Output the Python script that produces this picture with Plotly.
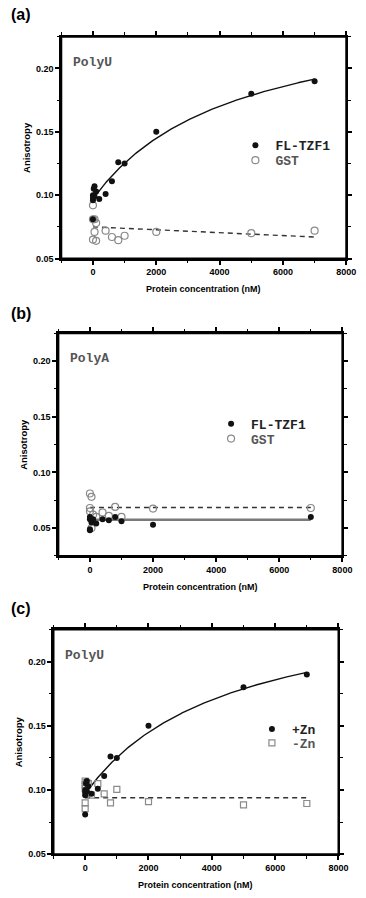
import numpy as np
import plotly.graph_objects as go

# ---------------- data ----------------
# Panel (a): PolyU, FL-TZF1 vs GST
fl_a_x = [0, 0, 0, 0, 25, 50, 50, 100, 200, 400, 600, 800, 1000, 2000, 5000, 7000]
fl_a_y = [0.100, 0.096, 0.098, 0.081, 0.105, 0.107, 0.099, 0.103, 0.097, 0.101,
          0.111, 0.126, 0.125, 0.150, 0.180, 0.190]
gst_a_x = [0, 0, 0, 50, 50, 100, 100, 400, 600, 800, 1000, 2000, 5000, 7000]
gst_a_y = [0.092, 0.081, 0.065, 0.081, 0.071, 0.078, 0.064, 0.072, 0.067, 0.0645,
           0.068, 0.071, 0.070, 0.072]

# Panel (b): PolyA, FL-TZF1 vs GST
fl_b_x = [0, 0, 0, 0, 50, 100, 200, 400, 600, 800, 1000, 2000, 7000]
fl_b_y = [0.060, 0.058, 0.049, 0.048, 0.055, 0.058, 0.054, 0.058, 0.057, 0.060,
          0.056, 0.053, 0.060]
gst_b_x = [0, 0, 0, 50, 50, 100, 200, 400, 600, 800, 1000, 2000, 7000]
gst_b_y = [0.081, 0.068, 0.065, 0.078, 0.050, 0.062, 0.060, 0.064, 0.061, 0.069,
           0.060, 0.0675, 0.068]

# Panel (c): PolyU, +Zn vs -Zn
pzn_c_x = [0, 0, 0, 0, 25, 50, 50, 100, 200, 400, 600, 800, 1000, 2000, 5000, 7000]
pzn_c_y = [0.100, 0.096, 0.098, 0.081, 0.105, 0.107, 0.099, 0.103, 0.097, 0.101,
           0.111, 0.126, 0.125, 0.150, 0.180, 0.190]
mzn_c_x = [0, 0, 0, 0, 0, 50, 50, 100, 200, 400, 600, 800, 1000, 2000, 5000, 7000]
mzn_c_y = [0.107, 0.104, 0.101, 0.090, 0.0855, 0.106, 0.097, 0.105, 0.096, 0.105,
           0.097, 0.090, 0.1005, 0.091, 0.0885, 0.0895]

# fitted models
hyp_a0, hyp_b, hyp_k = 0.097, 0.155, 4470.0      # binding hyperbola, PolyU
gst_a_line = (0.075, 0.067)                        # GST PolyU linear fit (start, end)
fl_b_level = 0.0575                                # PolyA FL-TZF1 flat fit
gst_b_level = 0.0685                               # PolyA GST flat fit
mzn_c_level = 0.094                                # -Zn flat fit
fit_range = (0, 7000)

panel_labels = ["(a)", "(b)", "(c)"]
rna_labels = ["PolyU", "PolyA", "PolyU"]
legend_names = [("FL-TZF1", "GST"), ("FL-TZF1", "GST"), ("+Zn", "-Zn")]
x_title = "Protein concentration (nM)"
y_title = "Anisotropy"

# ---------------- layout geometry ----------------
W, H = 366, 898
# pixel boxes: (left, right, top, bottom)
boxes = [(63, 356, 37, 260), (60, 352, 335, 559), (55, 348, 633, 859)]
yranges = [[0.05, 0.225], [0.025, 0.225], [0.05, 0.225]]
xrange_ = [-1000, 8000]
label_y = [15, 315, 612]
# legend boxes (left px, top px of first entry, top px of second entry)
legend_pos = [(242, 131, 146), (217, 411, 426), (259, 718, 732)]

def px_x(p):
    return p / W

def px_y(p):
    return 1 - p / H

fig = go.Figure()

fx = np.linspace(fit_range[0], fit_range[1], 200)
hyp = hyp_a0 + hyp_b * fx / (hyp_k + fx)

BLACK = "#111111"
GRAY = "#8a8a8a"

def add_panel(i, xs1, ys1, name1, xs2, ys2, name2, sym2, size2, line1, line2):
    n = i + 1
    xa = "x" if n == 1 else f"x{n}"
    ya = "y" if n == 1 else f"y{n}"
    leg1 = "legend" if n == 1 else f"legend{n}"
    leg2 = f"legend{n + 3}"
    fig.add_trace(go.Scatter(x=line1[0], y=line1[1], mode="lines",
                             line=line1[2], showlegend=False, hoverinfo="skip",
                             xaxis=xa, yaxis=ya))
    fig.add_trace(go.Scatter(x=line2[0], y=line2[1], mode="lines",
                             line=line2[2], showlegend=False, hoverinfo="skip",
                             xaxis=xa, yaxis=ya))
    fig.add_trace(go.Scatter(x=xs2, y=ys2, mode="markers", name=name2,
                             marker=dict(symbol=sym2, size=size2, color=GRAY,
                                         line=dict(color=GRAY, width=1.2)),
                             xaxis=xa, yaxis=ya, legend=leg2))
    fig.add_trace(go.Scatter(x=xs1, y=ys1, mode="markers", name=name1,
                             marker=dict(symbol="circle", size=6, color=BLACK,
                                         line=dict(width=0)),
                             xaxis=xa, yaxis=ya, legend=leg1))

solid = dict(color=BLACK, width=1.4)
dashed = dict(color="#333333", width=1.4, dash="5px,4px")

add_panel(0, fl_a_x, fl_a_y, legend_names[0][0], gst_a_x, gst_a_y, legend_names[0][1],
          "circle-open", 7,
          (fx, hyp, solid),
          (list(fit_range), list(gst_a_line), dashed))
add_panel(1, fl_b_x, fl_b_y, legend_names[1][0], gst_b_x, gst_b_y, legend_names[1][1],
          "circle-open", 7,
          (list(fit_range), [fl_b_level, fl_b_level], dict(color="#7a7a7a", width=2.4)),
          (list(fit_range), [gst_b_level, gst_b_level], dashed))
add_panel(2, pzn_c_x, pzn_c_y, legend_names[2][0], mzn_c_x, mzn_c_y, legend_names[2][1],
          "square-open", 6,
          (fx, hyp, solid),
          (list(fit_range), [mzn_c_level, mzn_c_level], dashed))

tickfont = dict(family="Liberation Sans, Arial", size=9, color="black", weight="bold")
layout = dict(width=W, height=H, margin=dict(l=0, r=0, t=0, b=0),
              paper_bgcolor="white", plot_bgcolor="white", showlegend=True,
              annotations=[], shapes=[])

def legend_box(left, top, color):
    return dict(x=px_x(left), y=px_y(top), xanchor="left", yanchor="top",
                bgcolor="rgba(0,0,0,0)", borderwidth=0, itemwidth=30,
                font=dict(family="Liberation Mono, Courier New", size=13,
                          color=color, weight="bold"))

for i, (l, r, t, b) in enumerate(boxes):
    n = i + 1
    sfx = "" if n == 1 else str(n)
    xd = [px_x(l), px_x(r)]
    yd = [px_y(b), px_y(t)]
    yr = yranges[i]
    layout["xaxis" + sfx] = dict(domain=xd, range=xrange_, anchor="y" + sfx,
                                 showline=True, linecolor="black", linewidth=2,
                                 mirror="ticks",
                                 ticks="outside", ticklen=4, tickwidth=1.5, tickcolor="black",
                                 tick0=0, dtick=2000, tickfont=tickfont,
                                 minor=dict(ticks="outside", ticklen=2.5, tickwidth=1.2,
                                            dtick=1000, tick0=0, tickcolor="black"),
                                 showgrid=False, zeroline=False)
    layout["yaxis" + sfx] = dict(domain=yd, range=yr, anchor="x" + sfx,
                                 showline=True, linecolor="black", linewidth=2,
                                 mirror="ticks",
                                 ticks="outside", ticklen=4, tickwidth=1.5, tickcolor="black",
                                 tick0=0, dtick=0.05, tickformat=".2f", tickfont=tickfont,
                                 minor=dict(ticks="outside", ticklen=2.5, tickwidth=1.2,
                                            dtick=0.025, tick0=0, tickcolor="black"),
                                 showgrid=False, zeroline=False)
    # frame around the plot area
    layout["shapes"].append(dict(type="rect", xref="x" + sfx + " domain",
                                 yref="y" + sfx + " domain",
                                 x0=0, x1=1, y0=0, y1=1, layer="above",
                                 line=dict(color="black", width=2),
                                 fillcolor="rgba(0,0,0,0)"))
    lx, ly1, ly2 = legend_pos[i]
    layout["legend" + sfx] = legend_box(lx, ly1, "#222222")
    layout[f"legend{n + 3}"] = legend_box(lx, ly2, "#555555")
    layout["annotations"] += [
        dict(text=panel_labels[i], x=px_x(9), y=px_y(label_y[i]), xref="paper", yref="paper",
             xanchor="left", yanchor="middle", showarrow=False,
             font=dict(family="Liberation Sans, Arial", size=16, color="black", weight="bold")),
        dict(text=rna_labels[i], x=px_x(l + 10), y=px_y(t + 26), xref="paper", yref="paper",
             xanchor="left", yanchor="middle", showarrow=False,
             font=dict(family="Liberation Mono, Courier New", size=13, color="#555555",
                       weight="bold")),
        dict(text=x_title, x=px_x((l + r) / 2), y=px_y(b + 31), xref="paper", yref="paper",
             xanchor="center", yanchor="middle", showarrow=False,
             font=dict(family="Liberation Sans, Arial", size=9, color="black", weight="bold")),
        dict(text=y_title, x=px_x(l - 36), y=px_y((t + b) / 2), xref="paper", yref="paper",
             xanchor="center", yanchor="middle", showarrow=False, textangle=-90,
             font=dict(family="Liberation Sans, Arial", size=9.5, color="black",
                       weight="bold")),
    ]

fig.update_layout(**layout)
fig.write_html("out.html")
